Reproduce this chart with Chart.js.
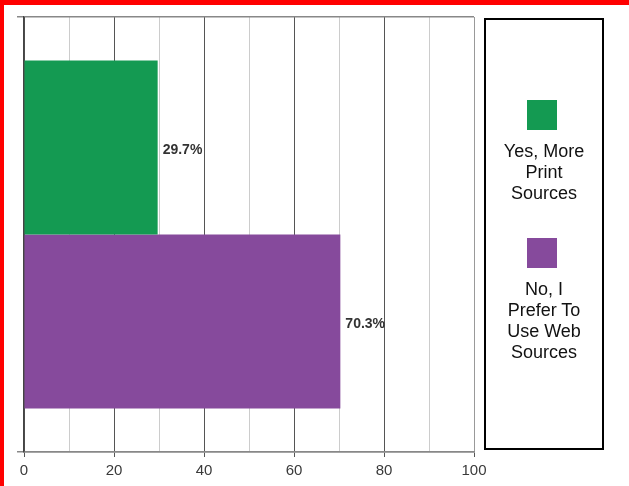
<!DOCTYPE html>
<html>
<head>
<meta charset="utf-8">
<script src="https://cdn.jsdelivr.net/npm/chart.js@4.4.1/dist/chart.umd.min.js"></script>
<style>
  html, body { margin: 0; padding: 0; background: #fff; }
  #wrap { position: relative; width: 629px; height: 486px; overflow: hidden; font-family: "Liberation Sans", Arial, sans-serif; }
  #box { position: absolute; left: 0; top: 0; width: 629px; height: 486px; }
  .red-top { position: absolute; left: 0; top: 0; width: 629px; height: 5px; background: #f00; }
  .red-left { position: absolute; left: 0; top: 0; width: 4px; height: 486px; background: #f00; }
  #legend { position: absolute; left: 484px; top: 18px; width: 120px; height: 432px; box-sizing: border-box;
            border: 2px solid #000; padding-top: 80px; text-align: center; }
  .item .sw { width: 30px; height: 30px; margin: 0 auto; position: relative; left: -2px; }
  .item .txt { width: 90px; margin: 11px auto 0; font-size: 18px; line-height: 21px; color: #111; }
  .item + .item { margin-top: 34px; }
</style>
</head>
<body>
<div id="wrap">
  <div id="box"><canvas id="chart"></canvas></div>
  <div class="red-top"></div>
  <div class="red-left"></div>
  <div id="legend"></div>
</div>
<script>
// ========== data ==========
const categories = [""];
const seriesLabels = ["Yes, More Print Sources", "No, I Prefer To Use Web Sources"];
const seriesValues = [[29.7], [70.3]];
const seriesColors = ["#149a52", "#864a9c"];
const xTickLabels = [0, 20, 40, 60, 80, 100];

// ========== value labels ==========
const valueLabels = {
  id: "valueLabels",
  afterDatasetsDraw(chart) {
    const ctx = chart.ctx;
    ctx.save();
    ctx.font = "bold 14px 'Liberation Sans', Arial, sans-serif";
    ctx.fillStyle = "#333";
    ctx.textAlign = "left";
    ctx.textBaseline = "middle";
    chart.data.datasets.forEach((ds, i) => {
      chart.getDatasetMeta(i).data.forEach((bar, j) => {
        ctx.fillText(ds.data[j].toFixed(1) + "%", bar.x + 5, bar.y + 3);
      });
    });
    ctx.restore();
  },
};

// ========== chart ==========
const chart = new Chart(document.getElementById("chart"), {
  type: "bar",
  data: {
    labels: categories,
    datasets: seriesLabels.map((label, i) => ({
      label,
      data: seriesValues[i],
      backgroundColor: seriesColors[i],
      borderWidth: 0,
      barPercentage: 1,
      categoryPercentage: 0.8,
    })),
  },
  options: {
    indexAxis: "y",
    responsive: true,
    maintainAspectRatio: false,
    animation: false,
    layout: { padding: { left: 17, top: 17, right: 155, bottom: 1 } },
    plugins: { legend: { display: false }, tooltip: { enabled: false } },
    scales: {
      x: {
        min: 0,
        max: 100,
        ticks: {
          stepSize: 10,
          autoSkip: false,
          maxRotation: 0,
          padding: 5,
          color: "#3a3a3a",
          font: { family: "'Liberation Sans', Arial, sans-serif", size: 15 },
          callback: (v) => (xTickLabels.includes(v) ? String(v) : ""),
        },
        grid: {
          tickLength: 5,
          color: (c) => {
            const v = c.tick && c.tick.value;
            if (v === 100) return "#999";
            return xTickLabels.includes(v) ? "#555" : "#ccc";
          },
          tickColor: (c) => (xTickLabels.includes(c.tick && c.tick.value) ? "#555" : "rgba(0,0,0,0)"),
        },
        border: { color: "#888", width: 1.5 },
      },
      y: {
        ticks: { display: false },
        grid: { color: "#888", tickLength: 7, offset: true, lineWidth: 1.5 },
        border: { color: "#444", width: 1.5 },
      },
    },
  },
  plugins: [valueLabels],
});

// ========== legend ==========
const legendEl = document.getElementById("legend");
seriesLabels.forEach((label, i) => {
  const item = document.createElement("div");
  item.className = "item";
  item.innerHTML = `<div class="sw" style="background:${seriesColors[i]}"></div><div class="txt">${label}</div>`;
  legendEl.appendChild(item);
});
</script>
</body>
</html>
